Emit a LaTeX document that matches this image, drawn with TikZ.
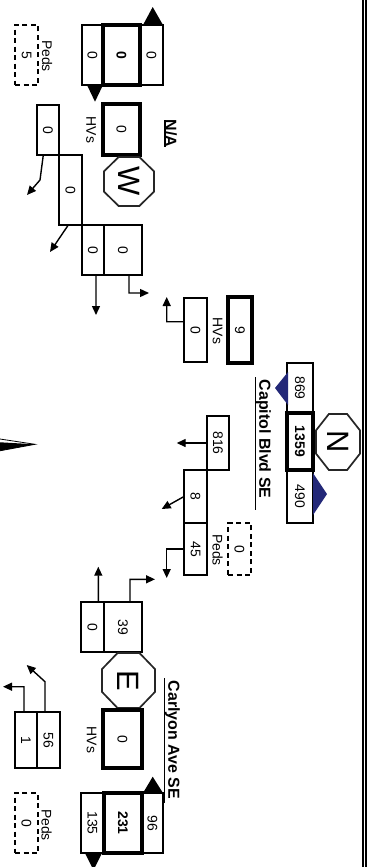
\documentclass[tikz,border=0pt]{standalone}
\usepackage{fontspec}
\setmainfont{Liberation Sans}
\usetikzlibrary{arrows.meta,calc}
\definecolor{navyt}{RGB}{35,40,120}
\newcommand{\mybox}[7]{\node[#1, minimum width={(#4-#2)*1bp}, minimum height={(#5-#3)*1bp}] (#6) at ({(#2+#4)/2},{(#3+#5)/2}) {\rotatebox{-90}{#7}};}
\newcommand{\myocto}[6]{%
  \node[octl] (#1) at ({(#2+#4)/2},{(#3+#5)/2}) {\rotatebox{-90}{#6}};
  \draw[octd] ({#2+0.293*(#4-#2)},#3) -- ({#4-0.293*(#4-#2)},#3) -- (#4,{#3+0.293*(#5-#3)}) -- (#4,{#5-0.293*(#5-#3)}) -- ({#4-0.293*(#4-#2)},#5) -- ({#2+0.293*(#4-#2)},#5) -- (#2,{#5-0.293*(#5-#3)}) -- (#2,{#3+0.293*(#5-#3)}) -- cycle;}
\begin{document}
\begin{tikzpicture}[x=1bp,y=-1bp,
  thinb/.style={draw, line width=1.8bp, inner sep=0pt, outer sep=0pt, font=\fontsize{14}{16}\selectfont},
  thickb/.style={draw, line width=3.8bp, inner sep=0pt, outer sep=0pt, font=\fontsize{14}{16}\selectfont},
  dashb/.style={draw, line width=1.8bp, dash pattern=on 5bp off 3.5bp, inner sep=0pt, outer sep=0pt, font=\fontsize{14}{16}\selectfont},
  lbl/.style={rotate=-90, inner sep=0pt, font=\fontsize{14}{16}\selectfont},
  road/.style={rotate=-90, inner sep=0pt, font=\bfseries\fontsize{16}{18}\selectfont},
  octl/.style={inner sep=0pt, font=\fontsize{31}{31}\selectfont},
  octd/.style={draw=black!85, line width=1.7bp, line join=miter},
  arr/.style={line width=1.4bp, -{Triangle[length=9bp,width=8bp]}},
  uline/.style={line width=1.6bp}
]
\useasboundingbox (0,0) rectangle (370,867);
\clip (0,0) rectangle (370,867);
\fill[white] (0,0) rectangle (370,867);

% north arrow (compass)
\filldraw[fill=white, draw=black, line width=0.8bp] (-10,437.5) -- (35,444.3) -- (-10,452.6) -- cycle;
\fill[black] (-10,441.7) -- (35,444.3) -- (-10,452.6) -- cycle;

% ===== West approach =====
\mybox{dashb}{15}{25}{38}{85}{w_peds}{5}
\node[lbl] (w_pedsl) at (47,56) {Peds};
\mybox{thinb}{82}{25}{103}{85}{w_out}{0}
\mybox{thinb}{140}{25}{163}{85}{w_in}{0}
\mybox{thickb}{103}{25}{140}{85}{w_tot}{\bfseries 0}
\fill (143,25) -- (152.7,7) -- (163,25) -- cycle;
\fill (87,85) -- (95,101.7) -- (103,85) -- cycle;
\mybox{thickb}{103}{104}{140}{155}{w_hv}{0}
\node[lbl] (w_hvl) at (91,130) {HVs};
\node[road] (w_name) at (171,133.5) {N/A};
\draw[uline] (164.8,120) -- (164.8,147);
\myocto{w_oct}{104}{157}{154}{206}{W}

\mybox{thinb}{37}{105}{59}{155}{wl1}{0}
\mybox{thinb}{59}{155}{82}{225}{wl2}{0}
\mybox{thinb}{82}{225}{104}{275}{wl3}{0}
\mybox{thinb}{104}{225}{142}{275}{wl4}{0}
\draw[arr] ([xshift=-4.7bp]wl1.south) -- (40,180) -- (27,195);
\draw[arr] ([xshift=-2.2bp]wl2.south) -- (50,252);
\draw[arr] ([xshift=3bp]wl3.south) -- (96,315);
\draw[arr] ([xshift=6bp]wl4.south) -- (129,293) -- (149,293);

% ===== Capitol Blvd (north) =====
\mybox{thinb}{184}{298}{207}{362}{c_hvin}{0}
\draw[arr] ([yshift=8.3bp]c_hvin.west) -- (166.7,321.7) -- (166.7,297);
\node[lbl] (c_hvl) at (217.5,331) {HVs};
\mybox{thickb}{228}{297}{252}{363}{c_hv}{9}

\mybox{thinb}{287}{363}{313}{413}{n_in}{869}
\mybox{thinb}{287}{470}{313}{523}{n_out}{490}
\mybox{thickb}{287}{413}{313}{470}{n_tot}{\bfseries 1359}
\fill[navyt] (288,372) -- (275,388) -- (288,405) -- cycle;
\fill[navyt] (313,473) -- (327,494) -- (313,515) -- cycle;
\myocto{n_oct}{316}{414}{360}{470}{N}
\node[road] (n_name) at (263.5,439) {Capitol Blvd SE};
\draw[uline] (255.5,377) -- (255.5,510);

\mybox{thinb}{207}{416}{229}{470}{s_816}{816}
\mybox{thinb}{184}{470}{207}{523}{s_8}{8}
\mybox{thinb}{184}{523}{207}{575}{s_45}{45}
\draw[arr] (s_816.west) -- (176.7,443);
\draw[arr] (s_8.west) -- (161.7,509);
\draw[arr] (s_45.west) -- (166.7,549) -- (166.7,578);
\mybox{dashb}{228}{523}{251}{575}{n_peds}{0}
\node[lbl] (n_pedsl) at (217.5,550) {Peds};

% ===== East approach =====
\mybox{thinb}{81}{602}{104}{652}{e_l1}{0}
\mybox{thinb}{104}{602}{142}{652}{e_l2}{39}
\draw[arr] ([xshift=5.8bp]e_l1.north) -- (98.3,566.7);
\draw[arr] ([xshift=7bp]e_l2.north) -- (130,579.3) -- (155,579.3);
\myocto{e_oct}{102}{653}{155}{708}{E}
\mybox{thickb}{103}{710}{142}{768}{e_hv}{0}
\node[lbl] (e_hvl) at (91.5,740) {HVs};
\node[road] (e_name) at (172.5,740) {Carlyon Ave SE};
\draw[uline] (164.3,678) -- (164.3,803);

\mybox{thinb}{81}{793}{104}{853}{e_out}{135}
\mybox{thinb}{142}{793}{163}{853}{e_in}{96}
\mybox{thickb}{104}{793}{142}{853}{e_tot}{\bfseries 231}
\fill (143,793) -- (152.7,776.7) -- (163,793) -- cycle;
\fill (85,853) -- (93.5,870) -- (102,853) -- cycle;

\mybox{thinb}{15}{712}{37}{768}{e_r1}{1}
\mybox{thinb}{37}{712}{60}{768}{e_r2}{56}
\draw[arr] ([xshift=-2bp]e_r1.north) -- (24,686.7) -- (3,686.7);
\draw[arr] ([xshift=-3.5bp]e_r2.north) -- (45,681.7) -- (26.7,665);
\mybox{dashb}{15}{793}{38}{853}{e_peds}{0}
\node[lbl] (e_pedsl) at (46.5,825) {Peds};

% right double border
\draw[line width=2.3bp] (362.8,0) -- (362.8,867);
\draw[line width=2.3bp] (366.2,0) -- (366.2,867);
\end{tikzpicture}
\end{document}
